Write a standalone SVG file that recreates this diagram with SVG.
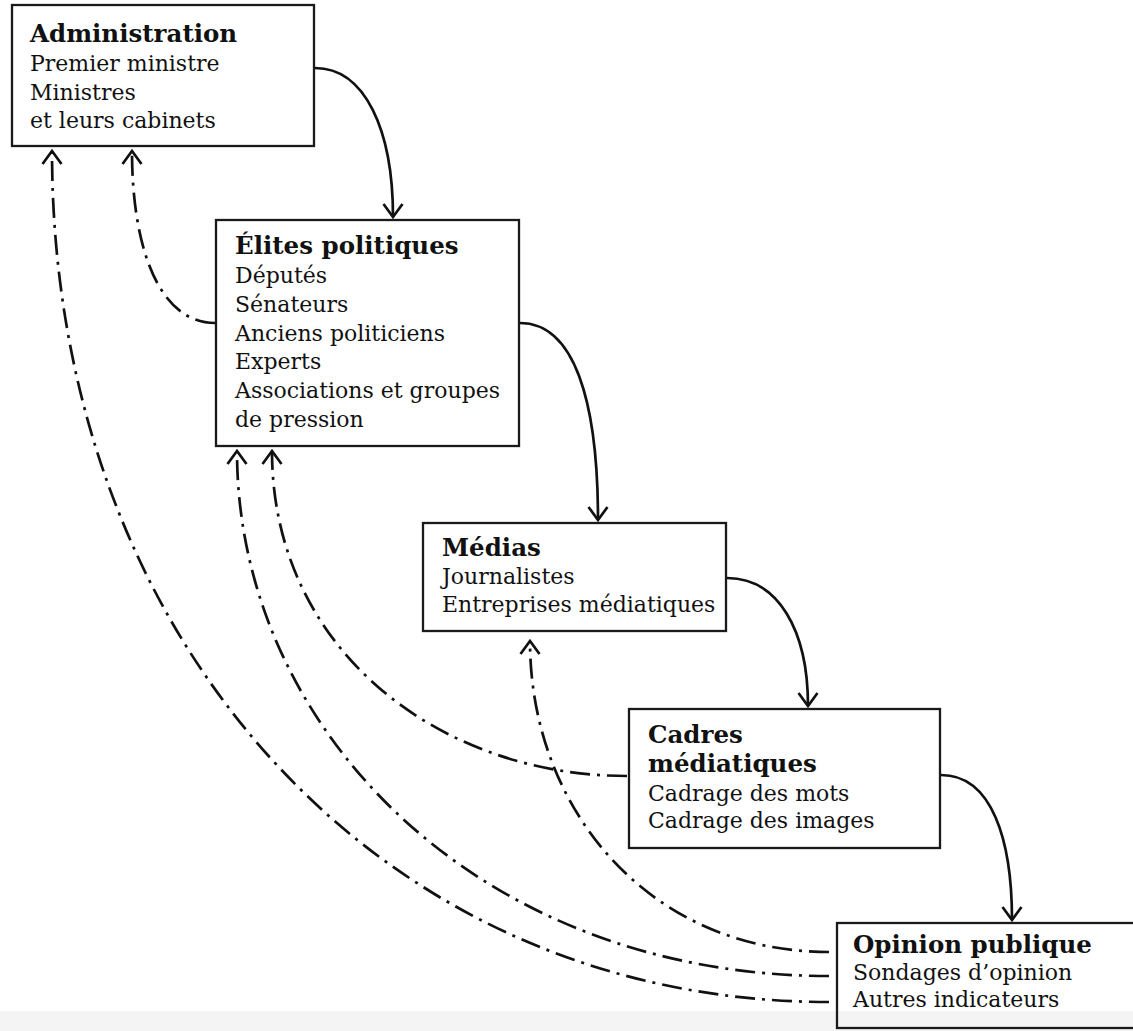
<svg xmlns="http://www.w3.org/2000/svg" width="1133" height="1031" viewBox="0 0 1133 1031">
<defs>
<style>
.box{fill:#fff;stroke:#1a1a1a;stroke-width:2.3}
.t{font-family:"DejaVu Serif","Liberation Serif",serif;font-size:22px;fill:#111}
.h{font-family:"DejaVu Serif","Liberation Serif",serif;font-size:24.5px;font-weight:bold;fill:#111}
.solid{fill:none;stroke:#111;stroke-width:2.7;marker-end:url(#arr)}
.dash{fill:none;stroke:#111;stroke-width:2.7;stroke-dasharray:20 7 3 7;marker-end:url(#arr)}
</style>
<marker id="arr" markerUnits="userSpaceOnUse" viewBox="-16 -12 20 24" markerWidth="20" markerHeight="24" refX="0" refY="0" orient="auto">
<path d="M-13,-9.5 L0,0 L-13,9.5" fill="none" stroke="#111" stroke-width="2.7" stroke-dasharray="none" stroke-linejoin="miter"/>
</marker>
</defs>
<rect x="0" y="0" width="1133" height="1031" fill="#fff"/>
<rect x="0" y="1011" width="1133" height="20" fill="#f4f4f4"/>

<g id="connectors">
<path class="solid" d="M315,68 C365,68 393,130 393,217"/>
<path class="solid" d="M520,323 C574,323 598,400 598,520"/>
<path class="solid" d="M727,578 C778,578 808,630 808,706"/>
<path class="solid" d="M941,775 C992,775 1012,840 1012,920"/>
<path class="dash" d="M215,323 C160,323 132,250 132,151"/>
<path class="dash" d="M829,1002 C380,1002 52,640 52,151"/>
<path class="dash" d="M829,976 C480,976 237,730 237,451"/>
<path class="dash" d="M829,952 C650,952 530,810 530,641"/>
<path class="dash" d="M627,776 C440,776 272,650 272,451"/>
</g>

<g id="administration">
<rect class="box" x="12" y="5" width="302" height="141"/>
<text class="h" x="30" y="42">Administration</text>
<text class="t" x="30" y="71">Premier ministre</text>
<text class="t" x="30" y="100">Ministres</text>
<text class="t" x="30" y="128">et leurs cabinets</text>
</g>

<g id="elites">
<rect class="box" x="216" y="220" width="303" height="226"/>
<text class="h" x="235" y="254">Élites politiques</text>
<text class="t" x="235" y="283">Députés</text>
<text class="t" x="235" y="312">Sénateurs</text>
<text class="t" x="235" y="341">Anciens politiciens</text>
<text class="t" x="235" y="369">Experts</text>
<text class="t" x="235" y="398">Associations et groupes</text>
<text class="t" x="235" y="427">de pression</text>
</g>

<g id="medias">
<rect class="box" x="423" y="523" width="303" height="108"/>
<text class="h" x="442" y="556">Médias</text>
<text class="t" x="442" y="584">Journalistes</text>
<text class="t" x="442" y="612">Entreprises médiatiques</text>
</g>

<g id="cadres">
<rect class="box" x="629" y="709" width="311" height="139"/>
<text class="h" x="648" y="743">Cadres</text>
<text class="h" x="648" y="772">médiatiques</text>
<text class="t" x="648" y="801">Cadrage des mots</text>
<text class="t" x="648" y="828">Cadrage des images</text>
</g>

<g id="opinion">
<rect class="box" style="fill:none" x="837" y="923" width="310" height="105"/>
<text class="h" x="853" y="953">Opinion publique</text>
<text class="t" x="853" y="980">Sondages d’opinion</text>
<text class="t" x="853" y="1007">Autres indicateurs</text>
</g>
</svg>
